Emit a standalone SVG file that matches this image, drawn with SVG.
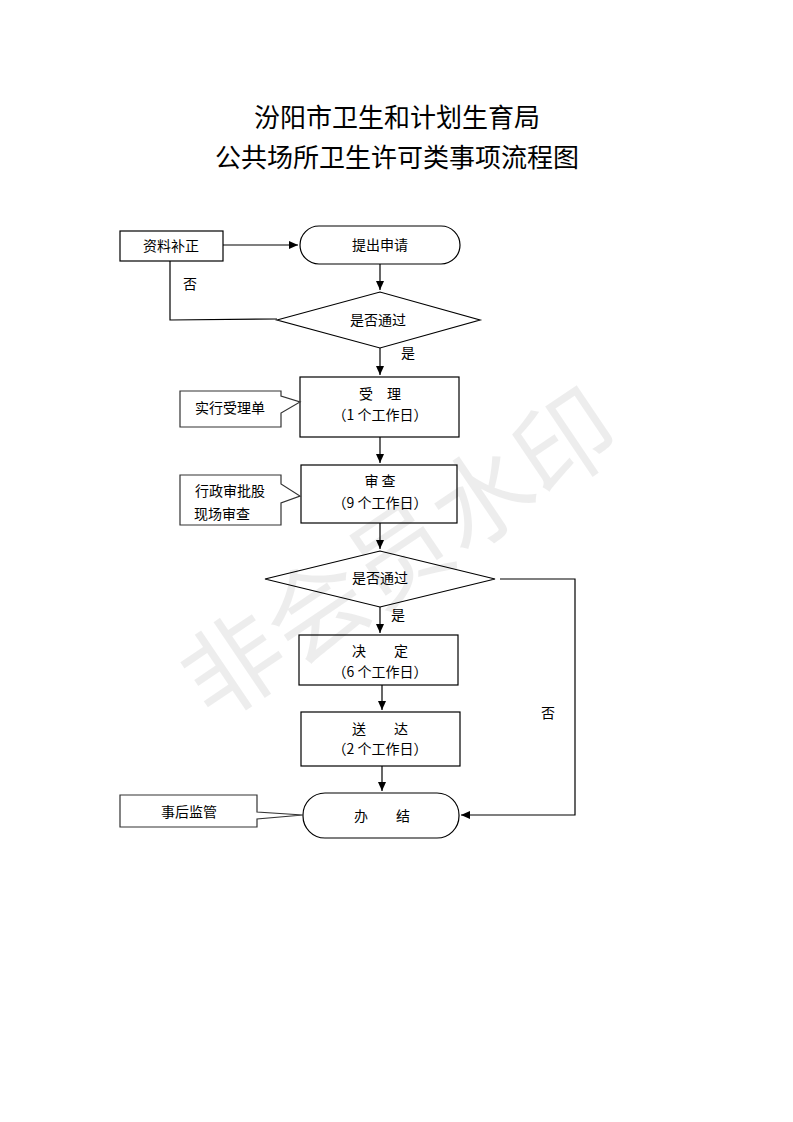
<svg xmlns="http://www.w3.org/2000/svg" width="793" height="1122" viewBox="0 0 793 1122">
<defs>
<marker id="ah" markerWidth="10" markerHeight="10" refX="9" refY="5" orient="auto" markerUnits="userSpaceOnUse"><path d="M0,1 L9,5 L0,9 Z" fill="#000"/></marker>
<style>
.s{fill:#fff;stroke:#000;stroke-width:1.2}
.c{fill:#fff;stroke:#333;stroke-width:1.2}
.t{font-family:"Noto Sans CJK SC","Liberation Serif",serif;font-size:14px;fill:#000;text-anchor:middle}
.h{font-family:"Noto Sans CJK SC",sans-serif;font-size:26px;fill:#000;text-anchor:middle}
.l{fill:none;stroke:#000;stroke-width:1.2}
.w{font-family:"Noto Sans CJK SC",sans-serif;font-size:100px;fill:#000;fill-opacity:0.07;text-anchor:middle}
</style>
</defs>
<rect width="793" height="1122" fill="#fff"/>
<text class="h" x="397" y="127">汾阳市卫生和计划生育局</text>
<text class="h" x="397" y="167">公共场所卫生许可类事项流程图</text>
<g id="connectors">
<path class="l" d="M223,245 H298" marker-end="url(#ah)"/>
<path class="l" d="M380,264 V290" marker-end="url(#ah)"/>
<path class="l" d="M277,319 L170,320 V261"/>
<path class="l" d="M380,348 V375" marker-end="url(#ah)"/>
<path class="l" d="M380,437 V463" marker-end="url(#ah)"/>
<path class="l" d="M380,523 V549" marker-end="url(#ah)"/>
<path class="l" d="M380,607 V633" marker-end="url(#ah)"/>
<path class="l" d="M382,685 V710" marker-end="url(#ah)"/>
<path class="l" d="M382,766 V791" marker-end="url(#ah)"/>
<path class="l" d="M500,579 H575 V815 H461" marker-end="url(#ah)"/>
<text class="t" x="190" y="289">否</text>
<text class="t" x="408" y="358">是</text>
<text class="t" x="398" y="620">是</text>
<text class="t" x="548" y="718">否</text>
</g>
<g id="n1"><rect class="s" x="120" y="231" width="103" height="30"/><text class="t" x="171" y="251">资料补正</text></g>
<g id="n2"><rect class="s" x="300" y="226" width="160" height="38" rx="19"/><text class="t" x="380" y="250">提出申请</text></g>
<g id="n3"><polygon class="s" points="277,320 380,292 480,320 380,348"/><text class="t" x="378" y="325">是否通过</text></g>
<g id="n4"><rect class="s" x="300" y="377" width="159" height="60"/><text class="t" x="380" y="399">受　理</text><text class="t" x="380" y="420">（1 个工作日）</text></g>
<g id="n5"><path class="c" d="M180,391 H281 V396 L300,402 L281,413 V427 H180 Z"/><text class="t" x="230" y="413">实行受理单</text></g>
<g id="n6"><rect class="s" x="301" y="465" width="156" height="58"/><text class="t" x="380" y="486">审 查</text><text class="t" x="380" y="508">（9 个工作日）</text></g>
<g id="n7"><path class="c" d="M180,475 H281 V484 L300,496 L281,503 V525 H180 Z"/><text class="t" x="230" y="496">行政审批股</text><text class="t" x="222" y="519">现场审查</text></g>
<g id="n8"><polygon class="s" points="265,579 380,551 495,579 380,607"/><text class="t" x="380" y="583">是否通过</text></g>
<g id="n9"><rect class="s" x="299" y="635" width="159" height="50"/><text class="t" x="380" y="656">决　　定</text><text class="t" x="380" y="677">（6 个工作日）</text></g>
<g id="n10"><rect class="s" x="301" y="712" width="159" height="54"/><text class="t" x="380" y="734">送　　达</text><text class="t" x="380" y="754">（2 个工作日）</text></g>
<g id="n11"><rect class="s" x="303" y="793" width="156" height="45" rx="22"/><text class="t" x="382" y="821">办　　结</text></g>
<g id="n12"><path class="c" d="M120,795 H257 V812 L303,815 L257,819 V827 H120 Z"/><text class="t" x="189" y="817">事后监管</text></g>
<text class="w" x="400" y="590" transform="rotate(-34 400 555)">非会员水印</text>
</svg>
